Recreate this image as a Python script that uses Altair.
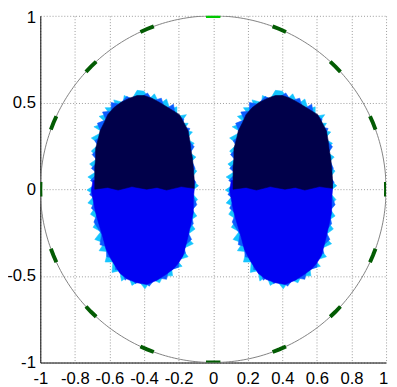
import altair as alt
import pandas as pd
import numpy as np

# ---------------- data ----------------
BLOB_CENTERS = [-0.4, 0.4]

# dark (upper) part of each inclusion, offsets from blob centre
NAVY_DX = [0, 0.045, 0.09, 0.14, 0.205, 0.23, 0.255, 0.265, 0.27, 0.28, 0.285, 0.29, 0.29,
           0.215, 0.13, 0.075, 0.015, -0.07, -0.15, -0.21, -0.285,
           -0.285, -0.285, -0.28, -0.28, -0.265, -0.255, -0.23, -0.21, -0.175, -0.135, -0.085, -0.04]
NAVY_DY = [0.54, 0.525, 0.50, 0.47, 0.43, 0.385, 0.335, 0.28, 0.235, 0.18, 0.125, 0.06, 0.005,
           0.015, -0.005, 0.01, 0.0, 0.015, -0.005, 0.01, 0.0,
           0.06, 0.125, 0.18, 0.235, 0.29, 0.335, 0.385, 0.43, 0.47, 0.50, 0.525, 0.54]

# blue (lower) part
BLUE_DX = [0.29, 0.29, 0.285, 0.285, 0.27, 0.255, 0.24, 0.225, 0.2, 0.17, 0.13, 0.075, 0.015,
           -0.04, -0.095, -0.14, -0.19, -0.22, -0.24, -0.26, -0.28, -0.295, -0.305, -0.295]
BLUE_DY = [0.05, -0.005, -0.06, -0.135, -0.205, -0.27, -0.33, -0.385, -0.425, -0.46, -0.49, -0.525, -0.55,
           -0.54, -0.52, -0.485, -0.405, -0.345, -0.27, -0.205, -0.135, -0.06, -0.005, 0.05]

# light jagged fringe of mesh elements (spikes)
CYAN_DX = [0, 0.03, 0.06, 0.09, 0.13, 0.15, 0.19, 0.19, 0.245, 0.21, 0.255, 0.23, 0.28, 0.245, 0.29,
           0.25, 0.30, 0.26, 0.305, 0.27, 0.315, 0.27, 0.31, 0.27, 0.305, 0.26, 0.295, 0.24, 0.285,
           0.22, 0.255, 0.19, 0.22, 0.16, 0.165, 0.11, 0.09, 0.045, 0.005, -0.03, -0.07, -0.09, -0.13,
           -0.14, -0.185, -0.18, -0.225, -0.21, -0.26, -0.23, -0.285, -0.25, -0.295, -0.265, -0.31,
           -0.28, -0.325, -0.285, -0.33, -0.27, -0.325, -0.27, -0.315, -0.265, -0.305, -0.26, -0.305,
           -0.24, -0.29, -0.22, -0.26, -0.2, -0.225, -0.16, -0.175, -0.12, -0.115, -0.07, -0.04]
CYAN_DY = [0.565, 0.52, 0.55, 0.49, 0.52, 0.46, 0.475, 0.42, 0.43, 0.38, 0.38, 0.34, 0.33, 0.29, 0.265,
           0.22, 0.185, 0.145, 0.105, 0.06, 0.02, -0.015, -0.06, -0.105, -0.155, -0.185, -0.23, -0.27, -0.315,
           -0.345, -0.39, -0.41, -0.445, -0.46, -0.50, -0.50, -0.54, -0.52, -0.575, -0.53, -0.555, -0.50, -0.53,
           -0.47, -0.48, -0.42, -0.42, -0.36, -0.355, -0.31, -0.29, -0.245, -0.22, -0.175, -0.145,
           -0.10, -0.08, -0.035, -0.005, 0.035, 0.07, 0.105, 0.145, 0.18, 0.22, 0.26, 0.295,
           0.33, 0.36, 0.385, 0.42, 0.435, 0.47, 0.47, 0.515, 0.50, 0.54, 0.52, 0.57]

MID_DX = [0.02, 0.05, 0.10, 0.12, 0.17, 0.18, 0.23, 0.22, 0.265, 0.24, 0.29, 0.26, 0.295, 0.27, 0.30, 0.27,
          0.305, 0.27, 0.285, 0.25, 0.275, 0.23, 0.24, 0.2, 0.2, 0.14, 0.13, 0.07, 0.03, -0.01, -0.05, -0.08,
          -0.11, -0.13, -0.165, -0.17, -0.215, -0.22, -0.255, -0.245, -0.29, -0.27, -0.305, -0.28, -0.315,
          -0.27, -0.31, -0.27, -0.305, -0.265, -0.30, -0.26, -0.285, -0.24, -0.27, -0.22, -0.24, -0.19,
          -0.19, -0.14, -0.10, -0.05]
MID_DY = [0.555, 0.51, 0.525, 0.46, 0.49, 0.43, 0.405, 0.36, 0.35, 0.30, 0.245, 0.20, 0.12, 0.08, 0.04, 0.0,
          -0.09, -0.13, -0.20, -0.24, -0.29, -0.33, -0.37, -0.39, -0.45, -0.47, -0.52, -0.51, -0.56, -0.52,
          -0.545, -0.50, -0.525, -0.46, -0.465, -0.40, -0.39, -0.33, -0.32, -0.26, -0.19, -0.14, -0.11,
          -0.06, -0.03, 0.02, 0.05, 0.09, 0.12, 0.16, 0.20, 0.24, 0.28, 0.31, 0.38, 0.40, 0.445, 0.45,
          0.50, 0.49, 0.535, 0.51]

ELECTRODE_ANGLES = [0, 22.5, 45, 67.5, 90, 112.5, 135, 157.5, 180, 202.5, 225, 247.5, 270, 292.5, 315, 337.5]
ACTIVE_ELECTRODE = 90
ELECTRODE_HALF_DEG = 2.4
TANK_RADIUS = 1.0

X_TICKS = [-1, -0.8, -0.6, -0.4, -0.2, 0, 0.2, 0.4, 0.6, 0.8, 1]
Y_TICKS = [-1, -0.5, 0, 0.5, 1]

NAVY = "#00004a"
BLUE = "#0000f2"
MID = "#0a5cff"
CYAN = "#14c4ff"
GREEN_DARK = "#035c03"
GREEN_ACTIVE = "#00c800"


def poly_table(dx, dy, name):
    rows = []
    for b, cx in enumerate(BLOB_CENTERS):
        n = len(dx)
        for i in range(n + 1):
            k = i % n
            rows.append({"x": cx + dx[k], "y": dy[k], "poly": f"{name}{b}", "o": i})
    return pd.DataFrame(rows)


cyan_df = poly_table(CYAN_DX, CYAN_DY, "c")
mid_df = poly_table(MID_DX, MID_DY, "m")
blue_df = poly_table(BLUE_DX, BLUE_DY, "b")
navy_df = poly_table(NAVY_DX, NAVY_DY, "n")

th = np.linspace(0, 2 * np.pi, 361)
circle_df = pd.DataFrame({"x": TANK_RADIUS * np.cos(th), "y": TANK_RADIUS * np.sin(th), "o": np.arange(len(th))})

erows = []
for a in ELECTRODE_ANGLES:
    for j, d in enumerate([-ELECTRODE_HALF_DEG, 0, ELECTRODE_HALF_DEG]):
        t = np.deg2rad(a + d)
        erows.append({"x": TANK_RADIUS * np.cos(t), "y": TANK_RADIUS * np.sin(t), "e": str(a), "o": j,
                      "active": "yes" if a == ACTIVE_ELECTRODE else "no"})
elec_df = pd.DataFrame(erows)

xscale = alt.Scale(domain=[-1, 1], nice=False, zero=False)
yscale = alt.Scale(domain=[-1, 1], nice=False, zero=False)

axis_common = dict(grid=True, gridDash=[1, 2], gridColor="#9a9a9a", gridWidth=1,
                   domainColor="black", domainWidth=1, ticks=False,
                   labelFont="Liberation Sans", labelFontSize=17, labelColor="black",
                   labelExpr="datum.value + ''", title=None)

xaxis = alt.Axis(values=X_TICKS, labelPadding=8, labelFlush=False,
                 labelOffset={"condition": {"test": "datum.value == 1", "value": -3}, "value": 0},
                 **axis_common)
yaxis = alt.Axis(values=Y_TICKS, labelPadding=5, labelFlush=False,
                 labelOffset={"condition": {"test": "datum.value == 1", "value": 2}, "value": 0},
                 **axis_common)


def X():
    return alt.X("x:Q", scale=xscale, axis=xaxis)


def Y():
    return alt.Y("y:Q", scale=yscale, axis=yaxis)


def poly_layer(df, color):
    return alt.Chart(df).mark_line(fill=color, stroke=color, strokeWidth=0.6, clip=True).encode(
        x=X(), y=Y(), detail="poly:N", order="o:Q",
    )


circle_layer = alt.Chart(circle_df).mark_line(stroke="#808080", strokeWidth=1, clip=True).encode(
    x=X(), y=Y(), order="o:Q",
)

elec_layer = alt.Chart(elec_df).mark_line(strokeWidth=4, clip=True).encode(
    x=X(), y=Y(), detail="e:N", order="o:Q",
    color=alt.Color("active:N", scale=alt.Scale(domain=["no", "yes"], range=[GREEN_DARK, GREEN_ACTIVE]), legend=None),
)

chart = alt.layer(
    poly_layer(cyan_df, CYAN),
    poly_layer(mid_df, MID),
    poly_layer(blue_df, BLUE),
    poly_layer(navy_df, NAVY),
    circle_layer,
    elec_layer,
).properties(
    width=353, height=354,
    autosize=alt.AutoSizeParams(type="none"),
    padding={"left": 33, "top": 4, "right": 3, "bottom": 21},
).configure_view(stroke=None)

chart.save("out.html", embed_options={"renderer": "svg", "actions": False})
